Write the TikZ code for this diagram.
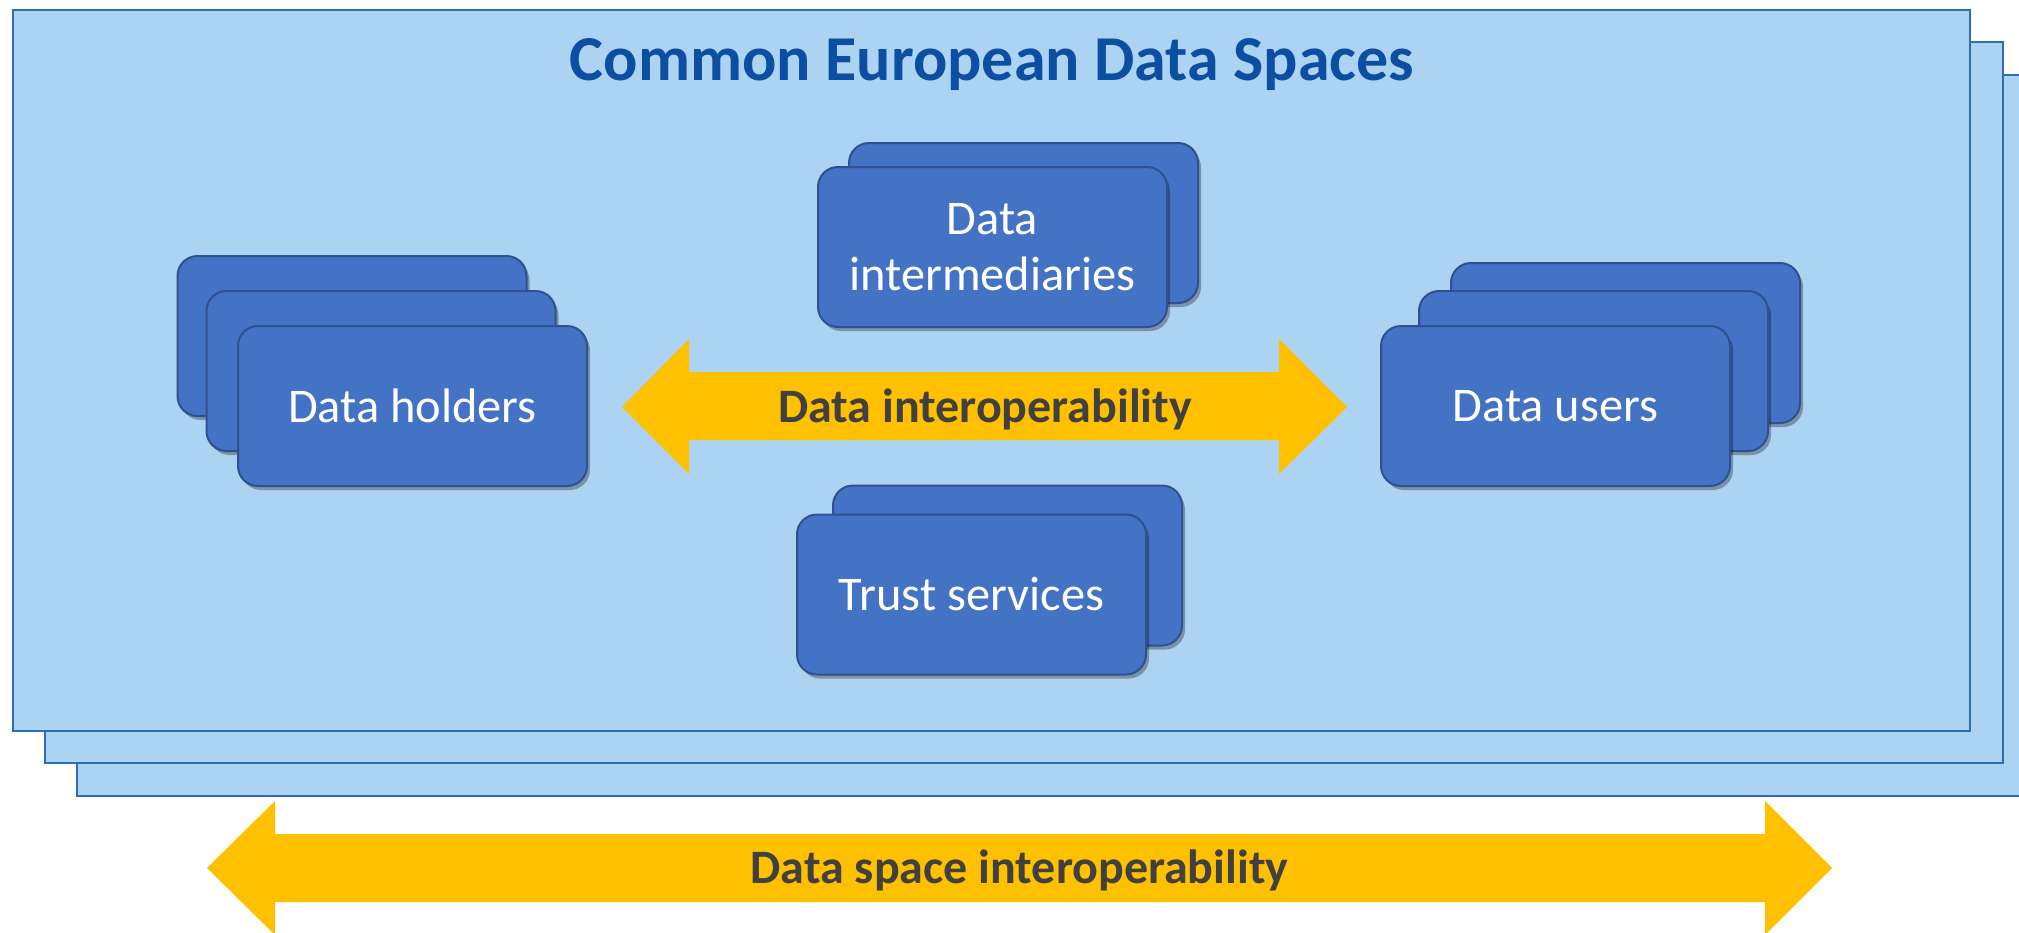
\documentclass[tikz,border=0pt]{standalone}
\usepackage{fontspec}
\setmainfont{Carlito}
\usetikzlibrary{shadows}

\definecolor{panelfill}{HTML}{ADD3F2}
\definecolor{paneledge}{HTML}{2E6DB4}
\definecolor{boxfill}{HTML}{4472C4}
\definecolor{boxedge}{HTML}{2F528F}
\definecolor{titleblue}{HTML}{0B4EA2}
\definecolor{arrowgold}{HTML}{FFC000}
\definecolor{labelgray}{HTML}{404040}

\tikzset{
  panel/.style={fill=panelfill, draw=paneledge, line width=0.8pt},
  actor/.style={draw=boxedge, fill=boxfill, line width=1pt, rounded corners=10pt,
    minimum width=174.5pt, minimum height=80pt, inner sep=0pt, text=white,
    font=\fontsize{24.2}{28}\selectfont, align=center,
    drop shadow={shadow xshift=1.5pt, shadow yshift=-2pt, opacity=0.3, fill=black}},
  bigarrow/.style={fill=arrowgold},
  arrowlabel/.style={text=labelgray, font=\bfseries\fontsize{24}{28}\selectfont,
    anchor=base, inner sep=0pt},
  title/.style={text=titleblue, font=\bfseries\fontsize{32}{36}\selectfont,
    anchor=base, inner sep=0pt},
}

\begin{document}
\begin{tikzpicture}[x=0.5pt, y=-0.5pt]
\clip (0,0) rectangle (2019,932);
\fill[white] (0,0) rectangle (2019,932);

% stacked data-space panels
\draw[panel] (77,75) rectangle (2040,796);
\draw[panel] (45,42) rectangle (2003,763);
\draw[panel] (13,10) rectangle (1970,731);

\node[title] (title) at (992,80) {Common European Data Spaces};

% data holders
\node[actor] (holders3) at (352,336) {};
\node[actor] (holders2) at (381,371) {};
\node[actor] (holders) at (412.5,406) {Data holders};

% data users
\node[actor] (users3) at (1625.5,343) {};
\node[actor] (users2) at (1593.5,371) {};
\node[actor] (users) at (1555.5,406) {Data users};

% data intermediaries
\node[actor] (inter2) at (1023.5,223) {};
\node[actor] (inter) at (992.5,247) {Data\\intermediaries};

% trust services
\node[actor] (trust2) at (1007.5,565.5) {};
\node[actor] (trust) at (971.5,594.5) {Trust services};

% data interoperability arrow
\fill[bigarrow] (622,407) -- (689,339) -- (689,372) -- (1279,372) -- (1279,339)
  -- (1347,407) -- (1279,474) -- (1279,440) -- (689,440) -- (689,474) -- cycle;
\node[arrowlabel] (datainterop) at (985,422) {Data interoperability};

% data space interoperability arrow
\fill[bigarrow] (207,868) -- (275,801) -- (275,834) -- (1765,834) -- (1765,801)
  -- (1832,868) -- (1765,935) -- (1765,902) -- (275,902) -- (275,935) -- cycle;
\node[arrowlabel] (spaceinterop) at (1019.5,883) {Data space interoperability};
\end{tikzpicture}
\end{document}
